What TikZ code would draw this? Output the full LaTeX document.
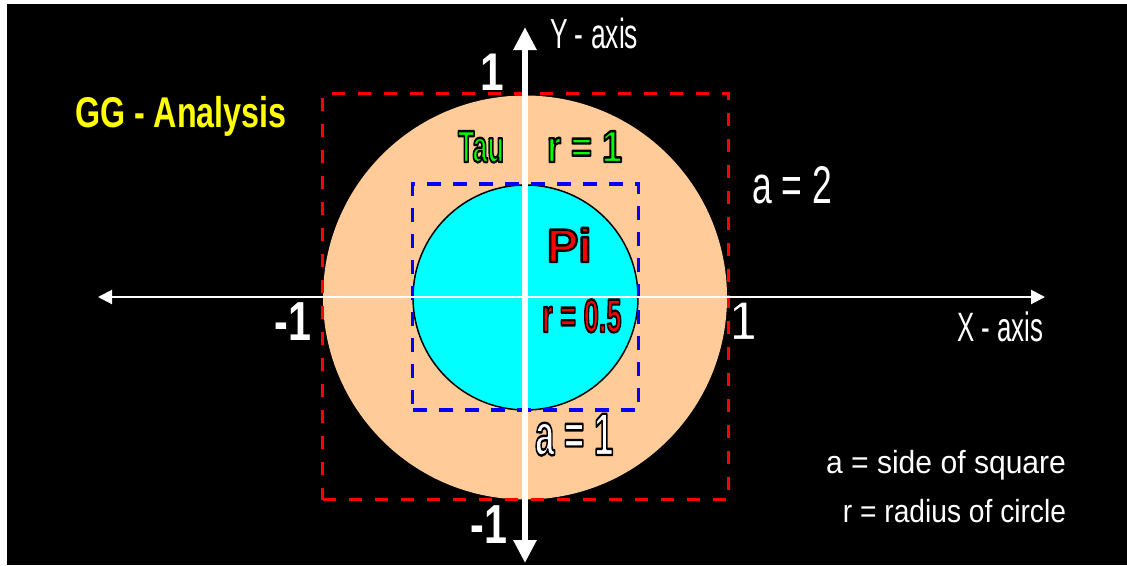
\documentclass[tikz,border=0pt]{standalone}
\usepackage{fontspec}
\setmainfont{Liberation Sans}
\usepackage{graphicx}
\usetikzlibrary{arrows.meta}
\definecolor{peach}{RGB}{255,204,153}
\definecolor{tgreen}{RGB}{0,255,0}
\definecolor{tred}{RGB}{255,0,0}
\definecolor{tblue}{RGB}{0,0,255}
\definecolor{tyellow}{RGB}{255,255,0}
\definecolor{tcyan}{RGB}{0,255,255}
\newcommand{\nt}[3]{\fontsize{#1}{#1}\selectfont\scalebox{#2}[1]{#3}}
% outlined text: fill with current colour, stroke in black
\newcommand{\outl}[2][2.4]{\special{pdf:literal direct 2 Tr #1 w 1 j 0 0 0 RG}#2\special{pdf:literal direct 0 Tr}}
\tikzset{
  lbl/.style={inner sep=0pt, outer sep=0pt},
  reddash/.style={draw=tred, line width=3.8pt, dash pattern=on 13pt off 13pt},
  bluedash/.style={draw=tblue, line width=3.6pt, dash pattern=on 14pt off 12pt},
}
\begin{document}
\begin{tikzpicture}[x=1pt,y=-1pt]
\fill[white] (0,0) rectangle (1127,565);
\fill[black] (7,4) rectangle (1127,565);
\useasboundingbox (0,0) rectangle (1127,565);
% circles and squares
\node[circle, fill=peach, minimum size=404pt, inner sep=0pt] (big) at (525,297.5) {};
\node[circle, fill=tcyan, draw=black, line width=1.5pt, minimum size=225pt, inner sep=0pt] (small) at (525.5,297.5) {};
\node[reddash, minimum size=406pt, inner sep=0pt] (sqbig) at (525.5,296.5) {};
\node[bluedash, minimum size=226pt, inner sep=0pt] (sqsmall) at (525.5,297) {};
% axes
\coordinate (xl) at (98,297);
\coordinate (xr) at (1045,297);
\coordinate (yt) at (525,27);
\coordinate (yb) at (525,563);
\draw[white, line width=2pt, {Triangle[length=14pt,width=14pt]}-{Triangle[length=14pt,width=14pt]}] (xl) -- (xr);
\draw[white, line width=6pt, {Triangle[length=23pt,width=22pt]}-{Triangle[length=23pt,width=22pt]}] (yb) -- (yt);
% labels
\node[lbl, anchor=base west, text=tyellow] (title) at (75,127) {\nt{43}{0.75}{\bfseries GG - Analysis}};
\node[lbl, anchor=base west, text=white] (ylab) at (550,48) {\nt{42}{0.63}{Y - axis}};
\node[lbl, anchor=base west, text=white] (xlab) at (957,341) {\nt{41}{0.63}{X - axis}};
\node[lbl, anchor=base, text=white] (ytop) at (492,90) {\nt{53}{0.8}{\bfseries 1}};
\node[lbl, anchor=base, text=white] (ybot) at (489,543) {\nt{55}{0.75}{\bfseries -1}};
\node[lbl, anchor=base, text=white] (xleft) at (293,340) {\nt{55}{0.75}{\bfseries -1}};
\node[lbl, anchor=base, text=white] (xright) at (743,340) {\nt{56}{0.85}{\bfseries\outl[2.4]{1}}};
\node[lbl, anchor=base west, text=white] (a2) at (752,203) {\nt{53}{0.67}{a = 2}};
\node[lbl, anchor=base west, text=tgreen] (tau) at (458,162) {\nt{45}{0.6}{\bfseries\outl{Tau}}};
\node[lbl, anchor=base west, text=tgreen] (r1) at (547,162) {\nt{45}{0.8}{\bfseries\outl{r = 1}}};
\node[lbl, anchor=base west, text=tred] (pi) at (547,262) {\nt{47}{1}{\bfseries\outl{Pi}}};
\node[lbl, anchor=base west, text=tred] (r05) at (542,332) {\nt{47}{0.58}{\bfseries\outl{r = 0.5}}};
\node[lbl, anchor=base west, text=white] (a1) at (535,455) {\nt{60}{0.58}{\bfseries\outl[2.4]{a = 1}}};
\node[lbl, anchor=base east, text=white] (leg1) at (1066,473) {\nt{32}{0.94}{a = side of square}};
\node[lbl, anchor=base east, text=white] (leg2) at (1066,522) {\nt{32}{0.88}{r = radius of circle}};
\end{tikzpicture}
\end{document}
